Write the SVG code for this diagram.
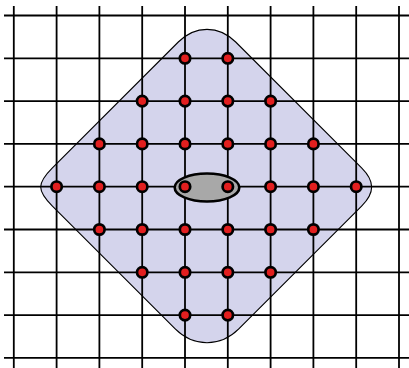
<svg xmlns="http://www.w3.org/2000/svg" width="409" height="368" viewBox="0 0 409 368">
<style>
.grid line{stroke:#000;stroke-width:1.8}
.n{fill:#e21f1f;stroke:#000;stroke-width:2.7}
</style>
<rect width="409" height="368" fill="#fff"/>
<g id="region">
<path d="M178.3,42 C195.2,25.1 218.8,25.1 235.7,42 L361.6,167.9 C375,181.3 375,192.7 361.6,206.1 L238.8,328.9 C220.4,347.3 193.6,347.3 175.2,328.9 L52.4,206.1 C36.8,190.5 36.8,183.5 52.4,167.9 Z" fill="#d4d4ec" stroke="#000" stroke-width="1.1"/>
</g>
<g id="connectors" class="grid">
<line x1="13.8" y1="6" x2="13.8" y2="368"/>
<line x1="56.6" y1="6" x2="56.6" y2="368"/>
<line x1="99.4" y1="6" x2="99.4" y2="368"/>
<line x1="142.2" y1="6" x2="142.2" y2="368"/>
<line x1="185" y1="6" x2="185" y2="368"/>
<line x1="227.8" y1="6" x2="227.8" y2="368"/>
<line x1="270.6" y1="6" x2="270.6" y2="368"/>
<line x1="313.4" y1="6" x2="313.4" y2="368"/>
<line x1="356.2" y1="6" x2="356.2" y2="368"/>
<line x1="399" y1="6" x2="399" y2="368"/>
<line x1="4" y1="15.5" x2="409" y2="15.5"/>
<line x1="4" y1="58.3" x2="409" y2="58.3"/>
<line x1="4" y1="101.1" x2="409" y2="101.1"/>
<line x1="4" y1="143.9" x2="409" y2="143.9"/>
<line x1="4" y1="186.7" x2="409" y2="186.7"/>
<line x1="4" y1="229.5" x2="409" y2="229.5"/>
<line x1="4" y1="272.3" x2="409" y2="272.3"/>
<line x1="4" y1="315.1" x2="409" y2="315.1"/>
<line x1="4" y1="357.9" x2="409" y2="357.9"/>
</g>
<g id="cluster">
<ellipse cx="207" cy="187.5" rx="32.3" ry="14" fill="#a8a8a8" stroke="#000" stroke-width="2.6"/>
</g>
<g id="n1_4"><circle class="n" cx="185" cy="58.3" r="5.2"/></g>
<g id="n1_5"><circle class="n" cx="227.8" cy="58.3" r="5.2"/></g>
<g id="n2_3"><circle class="n" cx="142.2" cy="101.1" r="5.2"/></g>
<g id="n2_4"><circle class="n" cx="185" cy="101.1" r="5.2"/></g>
<g id="n2_5"><circle class="n" cx="227.8" cy="101.1" r="5.2"/></g>
<g id="n2_6"><circle class="n" cx="270.6" cy="101.1" r="5.2"/></g>
<g id="n3_2"><circle class="n" cx="99.4" cy="143.9" r="5.2"/></g>
<g id="n3_3"><circle class="n" cx="142.2" cy="143.9" r="5.2"/></g>
<g id="n3_4"><circle class="n" cx="185" cy="143.9" r="5.2"/></g>
<g id="n3_5"><circle class="n" cx="227.8" cy="143.9" r="5.2"/></g>
<g id="n3_6"><circle class="n" cx="270.6" cy="143.9" r="5.2"/></g>
<g id="n3_7"><circle class="n" cx="313.4" cy="143.9" r="5.2"/></g>
<g id="n4_1"><circle class="n" cx="56.6" cy="186.7" r="5.2"/></g>
<g id="n4_2"><circle class="n" cx="99.4" cy="186.7" r="5.2"/></g>
<g id="n4_3"><circle class="n" cx="142.2" cy="186.7" r="5.2"/></g>
<g id="n4_4"><circle class="n" cx="185" cy="186.7" r="5.2"/></g>
<g id="n4_5"><circle class="n" cx="227.8" cy="186.7" r="5.2"/></g>
<g id="n4_6"><circle class="n" cx="270.6" cy="186.7" r="5.2"/></g>
<g id="n4_7"><circle class="n" cx="313.4" cy="186.7" r="5.2"/></g>
<g id="n4_8"><circle class="n" cx="356.2" cy="186.7" r="5.2"/></g>
<g id="n5_2"><circle class="n" cx="99.4" cy="229.5" r="5.2"/></g>
<g id="n5_3"><circle class="n" cx="142.2" cy="229.5" r="5.2"/></g>
<g id="n5_4"><circle class="n" cx="185" cy="229.5" r="5.2"/></g>
<g id="n5_5"><circle class="n" cx="227.8" cy="229.5" r="5.2"/></g>
<g id="n5_6"><circle class="n" cx="270.6" cy="229.5" r="5.2"/></g>
<g id="n5_7"><circle class="n" cx="313.4" cy="229.5" r="5.2"/></g>
<g id="n6_3"><circle class="n" cx="142.2" cy="272.3" r="5.2"/></g>
<g id="n6_4"><circle class="n" cx="185" cy="272.3" r="5.2"/></g>
<g id="n6_5"><circle class="n" cx="227.8" cy="272.3" r="5.2"/></g>
<g id="n6_6"><circle class="n" cx="270.6" cy="272.3" r="5.2"/></g>
<g id="n7_4"><circle class="n" cx="185" cy="315.1" r="5.2"/></g>
<g id="n7_5"><circle class="n" cx="227.8" cy="315.1" r="5.2"/></g>
</svg>
